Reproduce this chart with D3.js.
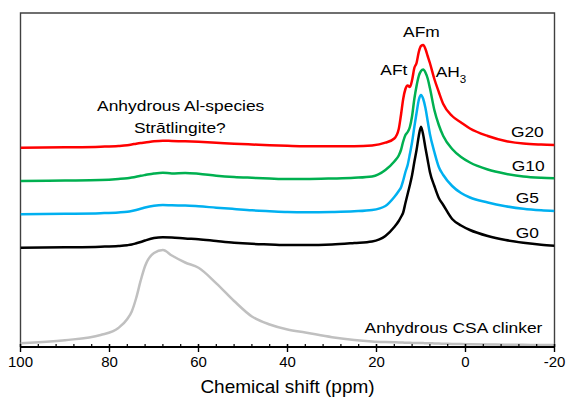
<!DOCTYPE html>
<html>
<head>
<meta charset="utf-8">
<script src="https://cdn.jsdelivr.net/npm/d3@7/dist/d3.min.js"></script>
<style>
  html, body { margin: 0; padding: 0; background: #fff; }
  svg { display: block; font-family: "Liberation Sans", Arial, sans-serif; }
</style>
</head>
<body>
<svg id="chart" width="567" height="405"></svg>
<script>
// 27Al MAS NMR spectra, stacked (intensity in arbitrary units incl. vertical offset)
const shift = [100, 90, 82, 78, 76, 75, 74, 73, 72, 70,
  68, 66, 63, 60, 56, 52, 48, 44, 40, 36,
  30, 25, 21, 18, 16, 15, 14.5, 14, 13.5, 13,
  12.5, 12, 11.5, 11, 10.5, 10, 9.5, 9, 8.5, 8,
  7, 6, 5, 3, 1, -1, -5, -9, -13, -17, -20];

const g0 = [99.3, 99.7, 100.3, 101, 101.8, 102.5, 103.7, 105, 106.5, 109,
  109.8, 109.5, 108.5, 107.8, 106, 104.3, 103.2, 102.6, 102, 102,
  102.5, 104, 105.5, 111, 120, 126, 130, 134.5, 144, 153,
  162, 172, 185, 197, 211, 220.3, 212, 199, 187, 175,
  161, 149, 142, 128, 121.5, 117, 111, 107, 104.3, 102.3, 101.3];

const g5 = [132.7, 133.2, 133.8, 134.5, 135.2, 136, 137, 138.2, 139.5, 141.3,
  142, 141.7, 141.5, 140.7, 139.3, 138, 136.7, 135.8, 135, 134.7,
  135, 135.7, 137, 141, 150, 156, 159.5, 166.5, 175, 182,
  193, 205, 220, 234, 247, 252, 248, 239, 226, 213,
  195, 180, 172, 161, 154, 149.5, 144.5, 140.8, 138.2, 136.7, 136];

const g10 = [166, 166.5, 167, 168, 168.8, 169.5, 170.3, 171.2, 172, 173.5,
  174.3, 173.6, 174, 173.2, 171.3, 170, 169.2, 168.5, 168, 168,
  168.5, 169.2, 170.5, 177, 185.5, 191.5, 197, 205.5, 212, 215,
  220, 231, 248, 261, 271, 276, 277.5, 274.5, 268.5, 259,
  237, 222, 211, 198, 190, 184.5, 177.5, 173.3, 170.5, 169.2, 168.7];

const g20 = [199.3, 199.7, 200.3, 201, 201.8, 202.5, 203.3, 204, 204.5, 205.7,
  206.3, 206, 205.7, 205.2, 204.3, 203.3, 202.5, 201.7, 201.2, 200.8,
  200.7, 200.7, 201.5, 204.3, 208.5, 218, 232, 248, 258, 261.5,
  260, 267, 279, 284, 295, 301, 302, 298, 291, 284,
  268, 255, 243, 231, 224.5, 218.5, 211, 206, 203.4, 202.4, 202];

const clinker = [3.7, 6.8, 12, 19, 28, 35.6, 49, 66.3, 81, 94,
  97, 91.5, 84.5, 79.2, 63.7, 46, 30.5, 22.5, 17.5, 14.5,
  9.8, 7, 5.6, 5, 4.7, 4.6, 4.5, 4.4, 4.3, 4.3,
  4.2, 4.1, 4.1, 4, 4, 3.9, 3.9, 3.8, 3.8, 3.7,
  3.6, 3.4, 3.3, 3.1, 2.9, 2.7, 2.5, 2.3, 2.2, 2, 2];

const seriesNames = ["Anhydrous CSA clinker", "G0", "G5", "G10", "G20"];
const seriesValues = [clinker, g0, g5, g10, g20];
const seriesColors = ["#c0c0c0", "#000000", "#00b0f0", "#00b050", "#ff0000"];

const xTicks = [100, 80, 60, 40, 20, 0, -20];
const xMinorTicks = d3.range(100, -20.1, -4);

// ---- layout ----
const svg = d3.select("#chart");
const plot = { left: 20.5, right: 554.5, top: 13, bottom: 347 };

const x = d3.scaleLinear().domain([100, -20]).range([plot.left, plot.right]);
const y = d3.scaleLinear().domain([0, 334]).range([plot.bottom, plot.top]);

svg.append("defs").append("clipPath").attr("id", "plotClip")
  .append("rect")
  .attr("x", plot.left).attr("y", plot.top)
  .attr("width", plot.right - plot.left).attr("height", plot.bottom - plot.top);

// frame (left, top, right)
svg.append("path")
  .attr("d", `M${plot.left},${plot.bottom}V${plot.top}H${plot.right}V${plot.bottom}`)
  .attr("fill", "none").attr("stroke", "#404040").attr("stroke-width", 1.4);

// spectra
const line = d3.line()
  .x((d, i) => x(shift[i]))
  .y(d => y(d))
  .curve(d3.curveMonotoneX);

const lines = svg.append("g").attr("clip-path", "url(#plotClip)");
seriesValues.forEach((vals, k) => {
  lines.append("path")
    .datum(vals)
    .attr("d", line)
    .attr("fill", "none")
    .attr("stroke", seriesColors[k])
    .attr("stroke-width", 2.5)
    .attr("stroke-linejoin", "round");
});

// bottom axis: major ticks cross the line, minor ticks point inward
const axisG = svg.append("g");
axisG.selectAll("line.minor").data(xMinorTicks).join("line")
  .attr("class", "minor")
  .attr("x1", d => x(d)).attr("x2", d => x(d))
  .attr("y1", plot.bottom - 3).attr("y2", plot.bottom)
  .attr("stroke", "#000").attr("stroke-width", 1.2);
axisG.selectAll("line.major").data(xTicks).join("line")
  .attr("class", "major")
  .attr("x1", d => x(d)).attr("x2", d => x(d))
  .attr("y1", plot.bottom - 3).attr("y2", plot.bottom + 5)
  .attr("stroke", "#000").attr("stroke-width", 1.4);
axisG.append("line")
  .attr("x1", plot.left).attr("x2", plot.right)
  .attr("y1", plot.bottom).attr("y2", plot.bottom)
  .attr("stroke", "#000").attr("stroke-width", 1.8);
axisG.selectAll("text").data(xTicks).join("text")
  .attr("x", d => x(d)).attr("y", 366.5)
  .attr("text-anchor", "middle")
  .attr("font-size", 15).attr("fill", "#000")
  .text(d => d);

svg.append("text")
  .attr("x", (plot.left + plot.right) / 2).attr("y", 393)
  .attr("text-anchor", "middle")
  .attr("font-size", 19).attr("fill", "#000")
  .text("Chemical shift (ppm)");

// annotations (slightly widened type)
function note(ppm, val, txt, anchor) {
  return svg.append("text")
    .attr("transform", `translate(${x(ppm)},${y(val)}) scale(1.16,1)`)
    .attr("text-anchor", anchor || "middle")
    .attr("font-size", 15).attr("fill", "#000")
    .text(txt);
}

note(-13.9, 210, "G20");
note(-14.1, 176.5, "G10");
note(-13.9, 144, "G5");
note(-13.9, 109, "G0");
note(2.7, 14, "Anhydrous CSA clinker");
note(64.0, 236.5, "Anhydrous Al-species");
note(64.2, 214.5, "Str\u0101tlingite?");
note(9.9, 310, "AFm");
note(16.1, 272, "AFt");
const ah = note(6.7, 270, "AH", "start");
ah.append("tspan").attr("font-size", 10).attr("dy", 6).text("3");
</script>
</body>
</html>
